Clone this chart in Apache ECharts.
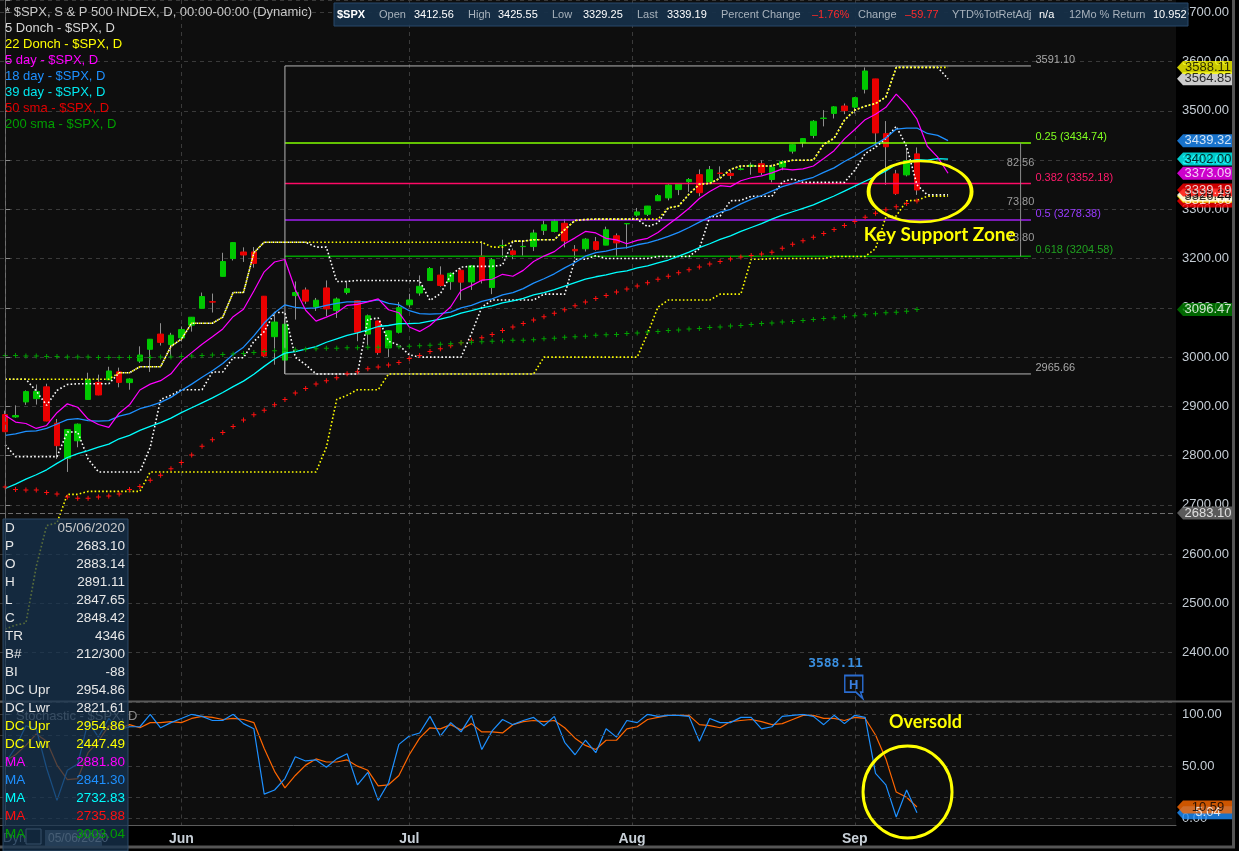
<!DOCTYPE html>
<html><head><meta charset="utf-8">
<script src="https://cdn.jsdelivr.net/npm/echarts@6/dist/echarts.min.js"></script>
<style>html,body{margin:0;padding:0;background:#000;}#c{width:1239px;height:851px;}</style>
</head><body><div id="c"></div>
<script>
// ---------- DATA ($SPX daily, 05/06/2020 - 09/10/2020) ----------
const openP=[2883.14,2878.26,2908.83,2915.46,2939.50,2865.86,2794.54,2829.95,2913.86,2948.59,2953.63,2969.95,2948.05,3004.08,3015.65,3046.61,3025.17,3038.78,3064.78,3098.90,3111.56,3163.84,3199.92,3213.32,3213.42,3123.53,3071.04,2993.76,3131.00,3136.13,3101.64,3140.29,3094.42,3138.70,3114.40,3046.60,3073.20,3018.59,3050.20,3105.92,3143.64,3155.29,3166.44,3153.07,3176.17,3152.47,3205.08,3141.11,3225.98,3208.36,3224.21,3224.29,3268.52,3254.86,3271.64,3218.58,3219.84,3234.27,3227.22,3231.76,3270.45,3288.26,3289.92,3317.37,3323.17,3340.05,3356.04,3370.34,3355.46,3372.95,3368.66,3380.86,3387.04,3392.51,3360.48,3386.01,3418.09,3435.95,3449.97,3485.14,3494.69,3509.73,3507.44,3543.76,3564.74,3453.60,3371.88,3369.82,3412.56];
const highP=[2891.11,2901.92,2932.16,2944.25,2945.82,2874.14,2852.80,2865.01,2968.09,2964.21,2980.29,2978.50,2956.76,3021.72,3036.25,3068.67,3049.17,3062.18,3081.07,3130.94,3128.91,3211.72,3233.13,3222.71,3223.27,3123.53,3088.42,3079.76,3153.45,3141.16,3120.00,3155.53,3120.92,3154.90,3115.01,3086.25,3073.73,3053.89,3111.51,3128.44,3165.81,3182.59,3184.15,3171.80,3179.78,3186.82,3235.32,3200.95,3238.28,3220.39,3233.52,3258.61,3277.29,3279.32,3279.99,3227.26,3241.43,3243.72,3264.74,3250.92,3272.17,3302.73,3306.84,3330.77,3351.03,3352.54,3363.29,3381.01,3387.89,3387.24,3378.51,3387.59,3395.06,3399.54,3390.80,3399.96,3432.09,3444.21,3481.07,3501.38,3509.23,3514.77,3528.03,3588.11,3564.85,3479.15,3379.97,3424.77,3425.55];
const lowP=[2847.65,2876.48,2902.88,2903.44,2869.59,2793.15,2766.64,2816.78,2913.86,2922.35,2953.63,2938.57,2933.59,2988.17,2969.75,3023.40,2998.61,3031.54,3051.64,3098.90,3090.41,3163.84,3196.00,3193.11,3181.49,2999.49,2984.47,2965.66,3076.06,3108.03,3093.51,3083.11,3079.39,3127.12,3032.13,3024.01,3004.63,2999.74,3047.83,3101.17,3124.52,3155.29,3142.93,3136.53,3115.70,3136.22,3149.43,3127.66,3200.76,3198.59,3205.65,3215.16,3247.77,3253.10,3222.66,3200.05,3214.25,3216.17,3227.22,3204.13,3220.26,3284.53,3286.37,3317.37,3318.14,3328.72,3335.44,3326.44,3355.46,3363.35,3361.64,3379.22,3370.15,3369.66,3354.69,3379.31,3413.13,3425.84,3444.15,3468.35,3484.32,3493.25,3494.60,3535.23,3427.41,3349.63,3329.27,3366.84,3329.25];
const closeP=[2848.42,2881.19,2929.80,2930.19,2870.12,2820.00,2852.50,2863.70,2953.91,2922.94,2971.61,2948.51,2955.45,2991.77,3036.13,3029.73,3044.31,3055.73,3080.82,3122.87,3112.35,3193.93,3232.39,3207.18,3190.14,3002.10,3041.31,3066.59,3124.74,3113.49,3115.34,3097.74,3117.86,3131.29,3050.33,3083.76,3009.05,3053.24,3100.29,3115.86,3130.01,3179.72,3145.32,3169.94,3152.05,3185.04,3155.22,3197.52,3226.56,3215.57,3224.73,3251.84,3257.30,3276.02,3235.66,3215.63,3239.41,3218.44,3258.44,3246.22,3271.12,3294.61,3306.51,3327.77,3349.16,3351.28,3360.47,3333.69,3380.35,3373.43,3372.85,3381.99,3389.78,3374.85,3385.51,3397.16,3431.28,3443.62,3478.73,3484.55,3508.01,3500.31,3526.65,3580.84,3455.06,3426.96,3331.84,3398.96,3339.19];
const closeBeforeFirst=2868.44;

// 5 Donch (displaced 3)
const donch5Upper=[2954.86,2954.86,2954.86,2930.91,2901.92,2932.16,2944.25,2945.82,2945.82,2945.82,2945.82,2968.09,2968.09,2980.29,2980.29,2980.29,3021.72,3036.25,3068.67,3068.67,3068.67,3081.07,3130.94,3130.94,3211.72,3233.13,3233.13,3233.13,3233.13,3233.13,3223.27,3223.27,3153.45,3153.45,3155.53,3155.53,3155.53,3155.53,3155.53,3154.90,3154.90,3115.01,3128.44,3165.81,3182.59,3184.15,3184.15,3184.15,3186.82,3235.32,3235.32,3238.28,3238.28,3238.28,3258.61,3277.29,3279.32,3279.99,3279.99,3279.99,3279.99,3279.99,3264.74,3272.17,3302.73,3306.84,3330.77,3351.03,3352.54,3363.29,3381.01,3387.89,3387.89,3387.89,3387.89,3395.06,3399.54,3399.54,3399.96,3432.09,3444.21,3481.07,3501.38,3509.23,3514.77,3528.03,3588.11,3588.11,3588.11,3588.11,3588.11,3564.85];
const donch5Lower=[2821.61,2797.85,2797.85,2797.85,2797.85,2797.85,2847.65,2847.65,2793.15,2766.64,2766.64,2766.64,2766.64,2766.64,2816.78,2913.86,2922.35,2933.59,2933.59,2933.59,2969.75,2969.75,2998.61,2998.61,3031.54,3051.64,3090.41,3090.41,2999.49,2984.47,2965.66,2965.66,2965.66,2965.66,2965.66,3076.06,3079.39,3032.13,3024.01,3004.63,2999.74,2999.74,2999.74,2999.74,2999.74,3047.83,3101.17,3115.70,3115.70,3115.70,3115.70,3115.70,3127.66,3127.66,3127.66,3198.59,3198.59,3205.65,3200.05,3200.05,3200.05,3200.05,3200.05,3204.13,3204.13,3204.13,3204.13,3220.26,3284.53,3286.37,3317.37,3318.14,3326.44,3326.44,3326.44,3355.46,3361.64,3354.69,3354.69,3354.69,3354.69,3354.69,3379.31,3413.13,3425.84,3444.15,3468.35,3427.41,3349.63,3329.27,3329.27,3329.25];
// 22 Donch (displaced 3)
const donch22Upper=[2954.86,2954.86,2954.86,2954.86,2954.86,2954.86,2954.86,2954.86,2954.86,2954.86,2954.86,2968.09,2968.09,2980.29,2980.29,2980.29,3021.72,3036.25,3068.67,3068.67,3068.67,3081.07,3130.94,3130.94,3211.72,3233.13,3233.13,3233.13,3233.13,3233.13,3233.13,3233.13,3233.13,3233.13,3233.13,3233.13,3233.13,3233.13,3233.13,3233.13,3233.13,3233.13,3233.13,3233.13,3233.13,3233.13,3233.13,3223.27,3223.27,3235.32,3235.32,3238.28,3238.28,3238.28,3258.61,3277.29,3279.32,3279.99,3279.99,3279.99,3279.99,3279.99,3279.99,3279.99,3302.73,3306.84,3330.77,3351.03,3352.54,3363.29,3381.01,3387.89,3387.89,3387.89,3387.89,3395.06,3399.54,3399.54,3399.96,3432.09,3444.21,3481.07,3501.38,3509.23,3514.77,3528.03,3588.11,3588.11,3588.11,3588.11,3588.11,3588.11];
const donch22Lower=[2447.49,2455.79,2459.96,2574.57,2657.67,2663.30,2721.17,2721.17,2727.10,2727.10,2727.10,2727.10,2727.10,2727.10,2766.64,2766.64,2766.64,2766.64,2766.64,2766.64,2766.64,2766.64,2766.64,2766.64,2766.64,2766.64,2766.64,2766.64,2766.64,2766.64,2766.64,2816.78,2913.86,2922.35,2933.59,2933.59,2933.59,2965.66,2965.66,2965.66,2965.66,2965.66,2965.66,2965.66,2965.66,2965.66,2965.66,2965.66,2965.66,2965.66,2965.66,2965.66,2999.74,2999.74,2999.74,2999.74,2999.74,2999.74,2999.74,2999.74,2999.74,2999.74,3047.83,3101.17,3115.70,3115.70,3115.70,3115.70,3115.70,3127.66,3127.66,3127.66,3198.59,3198.59,3200.05,3200.05,3200.05,3200.05,3200.05,3200.05,3204.13,3204.13,3204.13,3204.13,3220.26,3284.53,3286.37,3317.37,3318.14,3326.44,3326.44,3326.44];
// 5 / 18 / 39 day moving averages (displaced 3)
const ma5=[2882,2868,2865,2855,2861,2887,2905,2898,2874,2863,2857,2886,2903,2933,2945,2952,2966,2992,3009,3026,3041,3057,3082,3097,3134,3173,3193,3198,3137,3095,3073,3081,3090,3105,3107,3112,3118,3096,3090,3061,3052,3064,3083,3102,3135,3145,3156,3158,3168,3164,3176,3194,3205,3214,3230,3242,3255,3252,3241,3238,3230,3237,3241,3253,3269,3285,3302,3322,3336,3348,3346,3358,3364,3368,3374,3382,3380,3382,3388,3403,3419,3443,3462,3482,3493,3507,3534,3512,3483,3428,3406,3373.09];
const ma18=[2841,2844,2849,2850,2855,2864,2873,2875,2871,2870,2871,2880,2885,2895,2901,2908,2918,2932,2945,2959,2972,2987,3005,3020,3043,3069,3090,3106,3101,3099,3100,3105,3109,3112,3112,3113,3116,3109,3106,3094,3088,3087,3088,3091,3100,3105,3113,3118,3126,3131,3139,3150,3159,3169,3181,3192,3205,3212,3215,3220,3222,3228,3232,3238,3245,3253,3263,3274,3284,3294,3300,3311,3320,3328,3337,3346,3352,3359,3365,3375,3384,3397,3408,3421,3432,3445,3463,3465,3465,3454,3450,3439.32];
const ma39=[2733,2742,2752,2761,2771,2784,2796,2804,2810,2817,2823,2834,2841,2851,2859,2867,2876,2887,2897,2907,2917,2928,2940,2951,2965,2981,2996,3008,3011,3016,3021,3030,3037,3044,3049,3055,3062,3064,3068,3068,3069,3073,3077,3082,3089,3094,3100,3104,3110,3114,3119,3126,3131,3137,3144,3151,3158,3163,3167,3172,3175,3181,3185,3191,3197,3205,3213,3222,3230,3239,3246,3255,3263,3271,3280,3288,3295,3302,3309,3318,3327,3337,3347,3357,3367,3378,3391,3397,3401,3400,3403,3402.00];
const sma50=[2736,2731,2730,2730,2725,2722,2716,2713,2713,2716,2718,2722,2731,2737,2750,2760,2773,2786,2801,2819,2832,2847,2859,2872,2883,2892,2903,2914,2927,2936,2945,2952,2958,2966,2970,2976,2980,2984,2989,2997,3003,3011,3017,3023,3029,3034,3039,3046,3054,3061,3068,3075,3082,3089,3096,3104,3112,3119,3125,3132,3138,3144,3151,3158,3164,3171,3177,3183,3189,3194,3199,3203,3206,3209,3213,3221,3229,3236,3243,3251,3259,3267,3275,3284,3292,3299,3305,3312,3317.06];
const sma200=[3003,3003,3002,3002,3001,3001,3000,3000,3000,2999,2999,2999,2999,2999,2999,3000,3000,3001,3002,3003,3004,3005,3006,3007,3009,3011,3013,3014,3015,3016,3017,3018,3018,3019,3019,3020,3020,3021,3021,3022,3023,3024,3026,3027,3029,3030,3031,3032,3033,3034,3034,3035,3037,3038,3040,3041,3042,3044,3045,3046,3048,3049,3051,3052,3054,3055,3057,3058,3060,3061,3063,3064,3066,3068,3069,3071,3072,3074,3076,3078,3080,3082,3084,3086,3088,3090,3091,3093,3096.47];
// Stochastic (blue %K, orange %D)
const stochK=[53,68,89,86,48,17,46,52,93,78,96,85,88,88,100,87,92,96,100,98,94,94,100,91,86,23,27,38,59,55,56,49,57,62,32,44,17,34,71,79,82,98,79,92,83,99,66,84,95,90,94,97,89,98,73,61,75,63,86,78,94,92,100,98,99,99,98,74,96,92,92,97,97,86,88,98,99,100,98,90,99,91,99,97,43,32,1,27,5.04];
const stochD=[55,61,70,81,74,51,37,38,63,74,89,86,90,87,92,92,93,92,96,98,97,95,96,95,92,67,45,29,41,51,57,54,54,56,50,46,31,32,41,61,77,87,86,90,85,91,83,83,82,90,93,94,93,94,87,77,70,66,75,75,86,88,95,97,99,99,99,90,89,87,93,94,95,93,90,91,95,99,99,96,96,94,97,96,80,57,25,20,10.59];
// Fibonacci retracement (Jun 15 low -> Sep high)
const fibAnchorIndex=27, fibEndIndex=99, fibRulerIndex=98;
const fibHigh=3591.10, fibLow=2965.66;
const fibRatios=[0.25,0.382,0.5,0.618];
const fibValues=[3434.74,3352.18,3278.38,3204.58];
// axis tick labels
const monthLabels=['Jun','Jul','Aug','Sep'];
const monthStartIndex=[17,39,60.5,82];
const crosshairIndex=0, crosshairPrice=2683.10;
const dataWindowRows=[['D','05/06/2020'],['P','2683.10'],['O','2883.14'],['H','2891.11'],['L','2847.65'],['C','2848.42'],['TR','4346'],['B#','212/300'],['BI','-88'],['DC Upr','2954.86'],['DC Lwr','2821.61'],['DC Upr','2954.86'],['DC Lwr','2447.49'],['MA','2881.80'],['MA','2841.30'],['MA','2732.83'],['MA','2735.88'],['MA','3003.04']];

// ---------- CHART ----------
const FONT='"Liberation Sans", Arial, sans-serif';
const X_MIN=-0.5, X_MAX=113;
const pts=a=>a.map((v,i)=>[i,v]);
const n=closeP.length, last=n-1;
const wickData=openP.map((o,i)=>[i,o,closeP[i],lowP[i],highP[i]]);
const bodyData=openP.map((o,i)=>{
  const c=closeP[i], prev=i===0?closeBeforeFirst:closeP[i-1];
  const col=c>=prev?'#00c800':'#e80000';
  return {value:[i,o,c,Math.min(o,c),Math.max(o,c)],itemStyle:{color:col,color0:col,borderColor:col,borderColor0:col}};
});
const gridLine={color:'#3a3a3a',type:[4,4],width:1};
const axisLabelStyle={color:'#c4ccd4',fontSize:13,fontFamily:FONT};
const dotted=c=>({color:c,width:1.6,type:[1.6,2.2]});
const plusSym='path://M2,0H3V2H5V3H3V5H2V3H0V2H2Z';
const tagSym='path://M0,6.5L6,0H56V13H6Z';
const fibColors=['#80ff00','#ff0a66','#a020f0','#00a000'];
const fibLabelColors=['#80ff20','#ff1a6a','#9a3cff','#20a020'];

const lastChange=closeP[last]-closeP[last-1];
const fmt2=v=>v.toFixed(2);
const priceTags=[
  [sma50[last],'#ff0000','#fff'],
  [donch22Lower[donch22Lower.length-1],'#ffff00','#000'],
  [donch5Lower[donch5Lower.length-1],'#ffffff','#000'],
  [sma200[last],'#008000','#fff'],
  [crosshairPrice,'#707070','#fff'],
  [ma39[ma39.length-1],'#00ffff','#000'],
  [ma18[ma18.length-1],'#1e90ff','#fff'],
  [ma5[ma5.length-1],'#ff00ff','#fff'],
  [closeP[last],'#ff0000','#fff'],
  [donch5Upper[donch5Upper.length-1],'#ffffff','#000'],
  [donch22Upper[donch22Upper.length-1],'#ffff00','#000']
];
const stochTags=[[stochK[last],'#1e90ff','#fff'],[stochD[last],'#ff6a00','#000']];
const tagItems=arr=>arr.map(t=>({value:[0.5,t[0]],itemStyle:{color:t[1]},label:{color:t[2]}}));

const fibAll=[fibHigh].concat(fibValues,[fibLow]);
const fibLevelSeries=fibAll.map((v,k)=>{
  const isEnd=(k===0||k===fibAll.length-1);
  const col=isEnd?'#b4b4b4':fibColors[k-1];
  return {name:'fib'+k,type:'line',xAxisIndex:0,yAxisIndex:0,data:[[fibAnchorIndex,v],[fibEndIndex,v]],symbol:'none',silent:true,z:3,lineStyle:{color:col,width:isEnd?1:1.5}};
});
fibLevelSeries.push({name:'fibRuler',type:'line',xAxisIndex:0,yAxisIndex:0,data:[[fibRulerIndex,fibValues[0]],[fibRulerIndex,fibValues[3]]],symbol:'none',silent:true,z:3,lineStyle:{color:'#8a8a8a',width:1}});
const tinyPt={symbol:'circle',symbolSize:1,itemStyle:{color:'rgba(0,0,0,0)'}};
const fibLabelPts=fibAll.map((v,k)=>{
  const isEnd=(k===0||k===fibAll.length-1);
  const txt=isEnd?fmt2(v):(fibRatios[k-1]+' ('+fmt2(v)+')');
  return Object.assign({coord:[fibEndIndex,v],label:{show:true,formatter:txt,position:'right',distance:4,offset:[0,-6],color:isEnd?'#a8a8a8':fibLabelColors[k-1],fontSize:11,fontFamily:FONT}},tinyPt);
});
const spacingPts=[0,1,2].map(k=>Object.assign({coord:[fibRulerIndex,(fibValues[k]+fibValues[k+1])/2],label:{show:true,formatter:fmt2(fibValues[k]-fibValues[k+1]),position:'inside',color:'#9c9c9c',fontSize:11,fontFamily:FONT}},tinyPt));
const highMax=Math.max.apply(null,highP);
const highIdx=highP.indexOf(highMax);

const option={
  animation:false,
  backgroundColor:'#000',
  grid:[
    {left:0,top:0,width:1176,height:701.75,show:true,backgroundColor:'#0e0e0e',borderWidth:0},
    {left:0,top:702.5,width:1176,height:122.5,show:true,backgroundColor:'#0e0e0e',borderWidth:0},
    {left:0,top:714.3,width:1176,height:103.7,show:false},
    {left:1176,top:0,width:58,height:701.75,show:false},
    {left:1176,top:714.3,width:58,height:103.7,show:false}
  ],
  xAxis:[
    {gridIndex:0,type:'value',min:X_MIN,max:X_MAX,axisLine:{show:false},axisTick:{show:false,customValues:monthStartIndex},axisLabel:{show:false},splitLine:{show:true,lineStyle:gridLine}},
    {gridIndex:1,type:'value',min:X_MIN,max:X_MAX,position:'bottom',axisLine:{show:true,onZero:false,lineStyle:{color:'#5c5c5c',width:1}},axisTick:{show:false,customValues:monthStartIndex},
      axisLabel:{show:true,customValues:monthStartIndex,formatter:v=>{const k=monthStartIndex.indexOf(v);return k>=0?monthLabels[k]:'';},color:'#c8d0d8',fontSize:14,fontWeight:'bold',fontFamily:FONT,margin:7},splitLine:{show:true,lineStyle:gridLine}},
    {gridIndex:2,type:'value',min:X_MIN,max:X_MAX,show:false},
    {gridIndex:3,type:'value',min:0,max:1,show:false},
    {gridIndex:4,type:'value',min:0,max:1,show:false}
  ],
  yAxis:[
    {gridIndex:0,type:'value',position:'right',min:2300,max:3725,interval:100,axisLine:{show:true,lineStyle:{color:'#5c5c5c'}},axisTick:{show:true,length:5,lineStyle:{color:'#8a8a8a'}},
      axisLabel:Object.assign({formatter:v=>(v%100===0&&v>=2400&&v<=3700)?fmt2(v):'',margin:6},axisLabelStyle),splitLine:{show:true,lineStyle:gridLine}},
    {gridIndex:1,type:'value',position:'right',min:0,max:1,axisLine:{show:true,lineStyle:{color:'#5c5c5c'}},axisTick:{show:false},axisLabel:{show:false},splitLine:{show:false}},
    {gridIndex:2,type:'value',position:'right',min:0,max:100,interval:50,axisLine:{show:false},axisTick:{show:true,length:5,lineStyle:{color:'#8a8a8a'}},
      axisLabel:Object.assign({formatter:v=>fmt2(v),margin:6},axisLabelStyle),splitLine:{show:true,lineStyle:gridLine}},
    {gridIndex:3,type:'value',min:2300,max:3725,show:false},
    {gridIndex:4,type:'value',min:0,max:100,show:false}
  ],
  series:[
    {name:'wick',type:'candlestick',xAxisIndex:0,yAxisIndex:0,barWidth:1,encode:{x:0,y:[1,2,3,4]},data:wickData,silent:true,
      itemStyle:{color:'#8e8e8e',color0:'#8e8e8e',borderColor:'#8e8e8e',borderColor0:'#8e8e8e',borderWidth:1},
      markLine:{silent:true,symbol:['none','none'],label:{show:false},lineStyle:{color:'#6e6e6e',type:[5,3],width:1},data:[{xAxis:crosshairIndex},{yAxis:crosshairPrice}]}},
    {name:'body',type:'candlestick',xAxisIndex:0,yAxisIndex:0,barWidth:6,encode:{x:0,y:[1,2,3,4]},data:bodyData,silent:true,itemStyle:{borderWidth:1}}
  ].concat(fibLevelSeries,[
    {name:'fib',type:'line',xAxisIndex:0,yAxisIndex:0,data:[[fibAnchorIndex,fibHigh],[fibAnchorIndex,fibLow]],symbol:'none',silent:true,z:3,lineStyle:{color:'#b4b4b4',width:1},
      markPoint:{silent:true,data:fibLabelPts.concat(spacingPts,[
        {coord:[88.3,3336.1],symbol:'circle',symbolSize:[103,61],itemStyle:{color:'rgba(0,0,0,0)',borderColor:'#ffff00',borderWidth:3},label:{show:false}},
        Object.assign({coord:[90.2,3247.5],label:{show:true,formatter:'Key Support Zone',position:'inside',color:'#ffff00',fontSize:19,fontWeight:'bold',fontFamily:'Lato'}},tinyPt),
        Object.assign({coord:[highIdx-2.86,2376.7],label:{show:true,formatter:fmt2(highMax),position:'inside',color:'#3a8fe0',fontSize:13,fontWeight:'bold',fontFamily:'"DejaVu Sans Mono", monospace'}},tinyPt),
        {coord:[highIdx-1.1,2330],symbol:'path://M1,1H17V17H15L17,23L11,17H1Z',symbolSize:[18,23],itemStyle:{color:'rgba(0,0,0,0)',borderColor:'#2a6cd0',borderWidth:1.6},label:{show:true,formatter:'H',position:'inside',offset:[0,-2],color:'#3a7fe0',fontSize:13,fontWeight:'bold',fontFamily:FONT}}
      ])}},
    {name:'5 Donch U',type:'line',data:pts(donch5Upper),symbol:'none',silent:true,lineStyle:dotted('#ffffff')},
    {name:'5 Donch L',type:'line',data:pts(donch5Lower),symbol:'none',silent:true,lineStyle:dotted('#ffffff')},
    {name:'22 Donch U',type:'line',data:pts(donch22Upper),symbol:'none',silent:true,lineStyle:dotted('#ffff00')},
    {name:'22 Donch L',type:'line',data:pts(donch22Lower),symbol:'none',silent:true,lineStyle:dotted('#ffff00')},
    {name:'39 day',type:'line',data:pts(ma39),symbol:'none',silent:true,lineStyle:{color:'#00ffff',width:1.3}},
    {name:'18 day',type:'line',data:pts(ma18),symbol:'none',silent:true,lineStyle:{color:'#1e90ff',width:1.3}},
    {name:'5 day',type:'line',data:pts(ma5),symbol:'none',silent:true,lineStyle:{color:'#ff00ff',width:1.2}},
    {name:'50 sma',type:'line',data:pts(sma50),symbol:plusSym,symbolSize:5,showAllSymbol:true,silent:true,lineStyle:{width:0,opacity:0},itemStyle:{color:'#ff1010'}},
    {name:'200 sma',type:'line',data:pts(sma200),symbol:plusSym,symbolSize:5,showAllSymbol:true,silent:true,lineStyle:{width:0,opacity:0},itemStyle:{color:'#00a000'}},
    {name:'%D',type:'line',xAxisIndex:2,yAxisIndex:2,data:pts(stochD),symbol:'none',silent:true,lineStyle:{color:'#ff6600',width:1.2}},
    {name:'%K',type:'line',xAxisIndex:2,yAxisIndex:2,data:pts(stochK),symbol:'none',silent:true,lineStyle:{color:'#1e90ff',width:1.2},
      markLine:{silent:true,symbol:['none','none'],label:{show:false},data:[
        {yAxis:80,lineStyle:gridLine},{yAxis:20,lineStyle:gridLine},{xAxis:crosshairIndex,lineStyle:{color:'#6e6e6e',type:[5,3],width:1}}]},
      markPoint:{silent:true,data:[
        {coord:[87.09,25.1],symbol:'circle',symbolSize:[89,92],itemStyle:{color:'rgba(0,0,0,0)',borderColor:'#ffff00',borderWidth:3},label:{show:false}},
        Object.assign({coord:[88.83,92.1],label:{show:true,formatter:'Oversold',position:'inside',color:'#ffff00',fontSize:18,fontWeight:'bold',fontFamily:'Lato'}},tinyPt)
      ]}},
    {name:'priceTags',type:'scatter',xAxisIndex:3,yAxisIndex:3,clip:false,silent:true,z:10,symbol:tagSym,symbolSize:[56,13],data:tagItems(priceTags),
      label:{show:true,position:'inside',offset:[3,0],formatter:p=>fmt2(p.value[1]),fontSize:13,fontFamily:FONT}},
    {name:'stochTags',type:'scatter',xAxisIndex:4,yAxisIndex:4,clip:false,silent:true,z:10,symbol:tagSym,symbolSize:[56,13],data:tagItems(stochTags),
      label:{show:true,position:'inside',offset:[3,0],formatter:p=>fmt2(p.value[1]),fontSize:13,fontFamily:FONT}}
  ])
};

// ---------- chrome: header, legend, data window, frame ----------
const g=[];
const txt=(t,x,y,color,opt)=>Object.assign({type:'text',z:60,silent:true,style:Object.assign({text:t,x:x,y:y,fill:color,font:'13px '+FONT,textAlign:'left',textVerticalAlign:'middle'},opt||{})});
g.push({type:'line',z:55,silent:true,shape:{x1:0,y1:701.5,x2:1234,y2:701.5},style:{stroke:'#5a5a5a',lineWidth:2}});
g.push({type:'line',z:55,silent:true,shape:{x1:1233.5,y1:0,x2:1233.5,y2:848},style:{stroke:'#555',lineWidth:3}});
g.push({type:'line',z:55,silent:true,shape:{x1:0,y1:847,x2:1235,y2:847},style:{stroke:'#555',lineWidth:3}});
const legendItems=[['* $SPX, S & P 500 INDEX, D, 00:00-00:00 (Dynamic)','#c8c8c8'],['5 Donch - $SPX, D','#d8d8d8'],['22 Donch - $SPX, D','#ffff00'],['5 day - $SPX, D','#ff00ff'],['18 day - $SPX, D','#1e90ff'],['39 day - $SPX, D','#00e8f0'],['50 sma - $SPX, D','#e00000'],['200 sma - $SPX, D','#00a000']];
legendItems.forEach((it,k)=>g.push(txt(it[0],5,12+16*k,it[1])));
g.push({type:'rect',z:58,silent:true,shape:{x:334,y:3,width:854,height:23},style:{fill:'rgba(22,47,72,0.95)',stroke:'#28496a',lineWidth:1}});
const lab='#a8b2bc', red='#ff2a2a';
const headerItems=[['$SPX',337,'#ffffff',true],['Open',379,lab],[fmt2(openP[last]),414,'#fff'],['High',468,lab],[fmt2(highP[last]),498,'#fff'],['Low',552,lab],[fmt2(lowP[last]),583,'#fff'],['Last',637,lab],[fmt2(closeP[last]),667,'#fff'],['Percent Change',721,lab],['\u2013'+Math.abs(100*lastChange/closeP[last-1]).toFixed(2)+'%',812,red],['Change',858,lab],['\u2013'+Math.abs(lastChange).toFixed(2),905,red],['YTD%TotRetAdj',952,lab],['n/a',1039,'#fff'],['12Mo % Return',1069,lab],['10.952',1153,'#fff']];
headerItems.forEach(h=>g.push(txt(h[0],h[1],14.5,h[2],{font:(h[3]?'bold ':'')+'11px '+FONT})));
// bottom-left crosshair date
g.push(txt('Dyn',3,838,'#8a98a8',{font:'13px '+FONT}));
g.push({type:'rect',z:59,silent:true,shape:{x:26,y:829,width:15,height:15},style:{fill:'rgba(0,0,0,0)',stroke:'#8a9aaa',lineWidth:1}});
g.push({type:'rect',z:59,silent:true,shape:{x:45,y:830,width:57,height:16},style:{fill:'#465563'}});
g.push(txt(dataWindowRows[0][1],48,838.5,'#c0c8d0',{font:'12px '+FONT}));
// data window
g.push({type:'rect',z:61,silent:true,shape:{x:3,y:519,width:125,height:332},style:{fill:'rgba(24,52,82,0.72)',stroke:'#2c4a68',lineWidth:1}});
g.push(txt('Stochastic - $SPX, D',16,716,'#8e8e8e',{font:'13px '+FONT}));
const rowColors=['#e8e8e8','#e8e8e8','#e8e8e8','#e8e8e8','#e8e8e8','#e8e8e8','#e8e8e8','#e8e8e8','#e8e8e8','#e8e8e8','#e8e8e8','#ffff00','#ffff00','#ff00ff','#1e90ff','#00ffff','#ff1010','#00a000'];
dataWindowRows.forEach((r,k)=>{
  const y=528+18*k;
  const o1=txt(r[0],5,y,rowColors[k],{font:'13.5px '+FONT}); o1.z=62;
  const o2=txt(r[1],125,y,k===0?'#c8c8c8':rowColors[k],{font:'13.5px '+FONT,textAlign:'right'}); o2.z=62;
  g.push(o1,o2);
});
option.graphic=g;

const chart=echarts.init(document.getElementById('c'));
chart.setOption(option);
</script></body></html>
